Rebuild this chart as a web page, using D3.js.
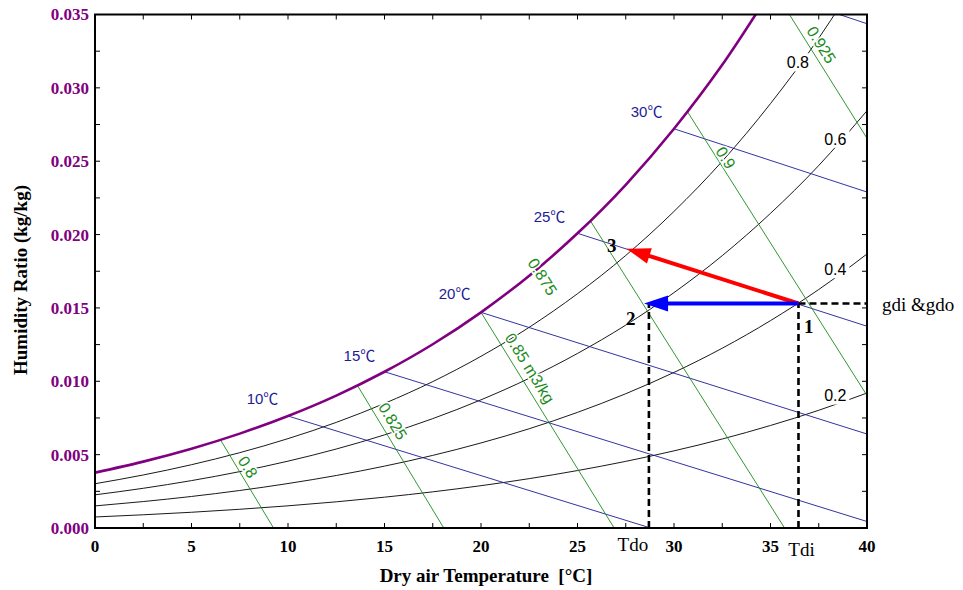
<!DOCTYPE html>
<html><head><meta charset="utf-8">
<script src="https://cdn.jsdelivr.net/npm/d3@7"></script>
<style>
html,body{margin:0;padding:0;background:#fff;}
svg{display:block;}
</style></head>
<body>
<svg id="chart" width="963" height="590"></svg>
<script>
// ---------- data ----------
const tGrid = [0,2.5,5,7.5,10,12.5,15,17.5,20,22.5,25,27.5,30,32.5,35,37.5,40];
const wSat  = [0.003775,0.004524,0.005403,0.006432,0.007632,0.009024,0.010650,0.012525,0.014699,0.017197,0.020086,0.023395,0.027210,0.031568,0.036584];
const wRh80 = [0.003017,0.003614,0.004315,0.005135,0.006091,0.007198,0.008491,0.009979,0.011704,0.013682,0.015970,0.018577,0.021579,0.025000,0.028927,0.033386,0.038510];
const wRh60 = [0.002260,0.002707,0.003231,0.003843,0.004557,0.005383,0.006347,0.007455,0.008737,0.010205,0.011898,0.013829,0.016045,0.018564,0.021446,0.024708,0.028442];
const wRh40 = [0.001505,0.001802,0.002150,0.002557,0.003031,0.003578,0.004217,0.004950,0.005797,0.006766,0.007882,0.009152,0.010605,0.012254,0.014135,0.016257,0.018677];
const wRh20 = [0.000751,0.000900,0.001073,0.001276,0.001512,0.001784,0.002101,0.002465,0.002885,0.003365,0.003916,0.004542,0.005258,0.006067,0.006988,0.008024,0.009200];

const rhLabels = ["0.8","0.6","0.4","0.2"];
const rhLabelT = [36.42,38.36,38.36,38.36];
const rhLabelW = [0.03174,0.02653,0.01764,0.009026];

// wet-bulb lines
const wbLabels = ["10","15","20","25","30"];
const wbT0 = [10,15,20,25,30,38.57];
const wbW0 = [0.007632,0.01065,0.014699,0.020086,0.02721,0.035];
const wbT1 = [28.79,40,40,40,40,40];
const wbW1 = [0,0.000443,0.006405,0.013752,0.022898,0.03437];
const wbLabelT = [8.68,13.7,18.63,23.55,28.58];
const wbLabelW = [0.00879,0.01178,0.01597,0.02122,0.0284];

// specific volume lines
const volLabels = ["0.8","0.825","0.85 m3/kg","0.875","0.9","0.925"];
const volT0 = [6.5,13.6,20.0,25.67,30.7,35.98];
const volW0 = [0.00601,0.00971,0.0147,0.02093,0.02837,0.035];
const volT1 = [9.25,18.07,26.9,35.73,40,40];
const volW1 = [0,0,0,0,0.00903,0.02656];
const volLabelT = [7.93,15.44,22.54,23.19,32.69,37.64];
const volLabelW = [0.00416,0.00729,0.0109,0.01713,0.02524,0.03294];

// process
const p1 = [36.45, 0.0153];
const p2Tip = [28.45, 0.0153];
const p3 = [27.54, 0.01904];
const tdo = 28.7, tdi = 36.45;
const ptLabels = ["1","2","3"];
const ptLabelT = [36.98,27.76,26.77];
const ptLabelW = [0.01376,0.01428,0.01928];

const xTicks = [0,5,10,15,20,25,30,35,40];
const yTicks = [0,0.005,0.01,0.015,0.02,0.025,0.03,0.035];

// ---------- chart ----------
const svg = d3.select("#chart");
const L=95, R=867, T=14.5, B=528;
const x = d3.scaleLinear().domain([0,40]).range([L,R]);
const y = d3.scaleLinear().domain([0,0.035]).range([B,T]);
const sans = "Liberation Sans, Arial, sans-serif";
const serif = "Liberation Serif, Times New Roman, serif";

svg.append("clipPath").attr("id","clip").append("rect")
  .attr("x",L).attr("y",T).attr("width",R-L).attr("height",B-T);
const g = svg.append("g").attr("clip-path","url(#clip)");

const line = d3.line().x(d=>x(d[0])).y(d=>y(d[1])).curve(d3.curveMonotoneX);

// RH curves
[wRh20,wRh40,wRh60,wRh80].forEach(arr=>{
  g.append("path").attr("d", line(arr.map((w,i)=>[tGrid[i],w])))
   .attr("fill","none").attr("stroke","#000").attr("stroke-width",0.9);
});

// wet bulb lines
wbT0.forEach((t,i)=>{
  g.append("line").attr("x1",x(t)).attr("y1",y(wbW0[i])).attr("x2",x(wbT1[i])).attr("y2",y(wbW1[i]))
   .attr("stroke","#1c1c96").attr("stroke-width",0.9);
});
// volume lines
volT0.forEach((t,i)=>{
  g.append("line").attr("x1",x(t)).attr("y1",y(volW0[i])).attr("x2",x(volT1[i])).attr("y2",y(volW1[i]))
   .attr("stroke","#1b8a1b").attr("stroke-width",0.9);
});

// saturation
g.append("path").attr("d", line(wSat.map((w,i)=>[tGrid[i],w])))
  .attr("fill","none").attr("stroke","#800080").attr("stroke-width",2.6);

// RH labels with white background
rhLabels.forEach((s,i)=>{
  const cx=x(rhLabelT[i]), cy=y(rhLabelW[i]);
  g.append("rect").attr("x",cx-14).attr("y",cy-9).attr("width",28).attr("height",18).attr("fill","#fff");
  g.append("text").attr("x",cx).attr("y",cy).attr("text-anchor","middle").attr("dy","0.36em")
   .attr("font-family",sans).attr("font-size",16).attr("fill","#000").text(s);
});

// volume labels
volLabels.forEach((s,i)=>{
  const ang = Math.atan2(y(volW1[i])-y(volW0[i]), x(volT1[i])-x(volT0[i]))*180/Math.PI;
  const cx=x(volLabelT[i]), cy=y(volLabelW[i]);
  svg.append("text").attr("transform",`translate(${cx},${cy}) rotate(${ang})`)
   .attr("text-anchor","middle").attr("dy","0.36em")
   .attr("font-family",sans).attr("font-size",16)
   .attr("fill","#1b8a1b").attr("stroke","#fff").attr("stroke-width",3).attr("paint-order","stroke")
   .text(s);
});

// wet bulb labels
wbLabelT.forEach((t,i)=>{
  const tx = svg.append("text").attr("x",x(t)).attr("y",y(wbLabelW[i])).attr("text-anchor","middle").attr("dy","0.36em")
   .attr("font-family",sans).attr("font-size",15).attr("fill","#1c1c96");
  tx.append("tspan").text(wbLabels[i]);
  tx.append("tspan").attr("font-family","Noto Sans CJK SC, DejaVu Sans, sans-serif").attr("font-size",15).text("\u2103");
});

// dashed guide lines
function dl(x1,y1,x2,y2){
  svg.append("line").attr("x1",x1).attr("y1",y1).attr("x2",x2).attr("y2",y2)
    .attr("stroke","#000").attr("stroke-width",2.6).attr("stroke-dasharray","7,4");
}
dl(x(tdo),y(0),x(tdo),y(p1[1]));
dl(x(tdi),y(0),x(tdi),y(p1[1]));
dl(x(tdi),y(p1[1]),x(40),y(p1[1]));

// arrows
function arrow(from,to,color){
  const x1=x(from[0]),y1=y(from[1]),x2=x(to[0]),y2=y(to[1]);
  const a=Math.atan2(y2-y1,x2-x1), len=24, hw=8;
  const bx=x2-len*Math.cos(a), by=y2-len*Math.sin(a);
  svg.append("line").attr("x1",x1).attr("y1",y1).attr("x2",bx+3*Math.cos(a)).attr("y2",by+3*Math.sin(a))
    .attr("stroke",color).attr("stroke-width",4);
  const pts=[[x2,y2],[bx-hw*Math.sin(a),by+hw*Math.cos(a)],[bx+hw*Math.sin(a),by-hw*Math.cos(a)]];
  svg.append("polygon").attr("points",pts.map(p=>p.join(",")).join(" ")).attr("fill",color);
}
arrow(p1,p3,"#ff0000");
arrow(p1,p2Tip,"#0000ff");

// point labels
ptLabels.forEach((s,i)=>{
  svg.append("text").attr("x",x(ptLabelT[i])).attr("y",y(ptLabelW[i])).attr("text-anchor","middle").attr("dy","0.36em")
   .attr("font-family",serif).attr("font-weight","bold").attr("font-size",19)
   .attr("fill","#000").text(s);
});

// axes frame
svg.append("rect").attr("x",L).attr("y",T).attr("width",R-L).attr("height",B-T)
  .attr("fill","none").attr("stroke","#000").attr("stroke-width",2);

// ticks
const xAll = d3.range(0,40.01,2.5), yAll = d3.range(0,0.03501,0.0025);
const tk = svg.append("g").attr("stroke","#000").attr("stroke-width",1);
xAll.forEach(v=>{
  tk.append("line").attr("x1",x(v)).attr("x2",x(v)).attr("y1",B).attr("y2",B-5);
  tk.append("line").attr("x1",x(v)).attr("x2",x(v)).attr("y1",T).attr("y2",T+5);
});
yAll.forEach(v=>{
  tk.append("line").attr("x1",L).attr("x2",L+5).attr("y1",y(v)).attr("y2",y(v));
  tk.append("line").attr("x1",R).attr("x2",R-5).attr("y1",y(v)).attr("y2",y(v));
});
xTicks.forEach(v=>{
  svg.append("text").attr("x",x(v)).attr("y",B+24).attr("text-anchor","middle")
   .attr("font-family",serif).attr("font-weight","bold").attr("font-size",17).text(v);
});
yTicks.forEach(v=>{
  svg.append("text").attr("x",L-6).attr("y",y(v)).attr("dy","0.35em").attr("text-anchor","end")
   .attr("font-family",serif).attr("font-weight","bold").attr("font-size",17).attr("fill","#800080")
   .text(d3.format(".3f")(v));
});

// Tdo / Tdi / gdi labels
svg.append("text").attr("x",x(tdo)-16).attr("y",B+23).attr("text-anchor","middle")
  .attr("font-family",serif).attr("font-size",19).text("Tdo");
svg.append("text").attr("x",x(tdi)+3).attr("y",B+28).attr("text-anchor","middle")
  .attr("font-family",serif).attr("font-size",19).text("Tdi");
svg.append("text").attr("x",R+15).attr("y",y(p1[1])+7).attr("text-anchor","start")
  .attr("font-family",serif).attr("font-size",19).text("gdi &gdo");

// axis titles
svg.append("text").attr("x",(L+R)/2+5).attr("y",582).attr("text-anchor","middle")
  .attr("font-family",serif).attr("font-weight","bold").attr("font-size",19)
  .attr("xml:space","preserve").text("Dry air Temperature  [\u00B0C]");
svg.append("text").attr("transform","translate(27,280) rotate(-90)").attr("text-anchor","middle")
  .attr("font-family",serif).attr("font-weight","bold").attr("font-size",19)
  .text("Humidity Ratio (kg/kg)");
</script>
</body></html>
